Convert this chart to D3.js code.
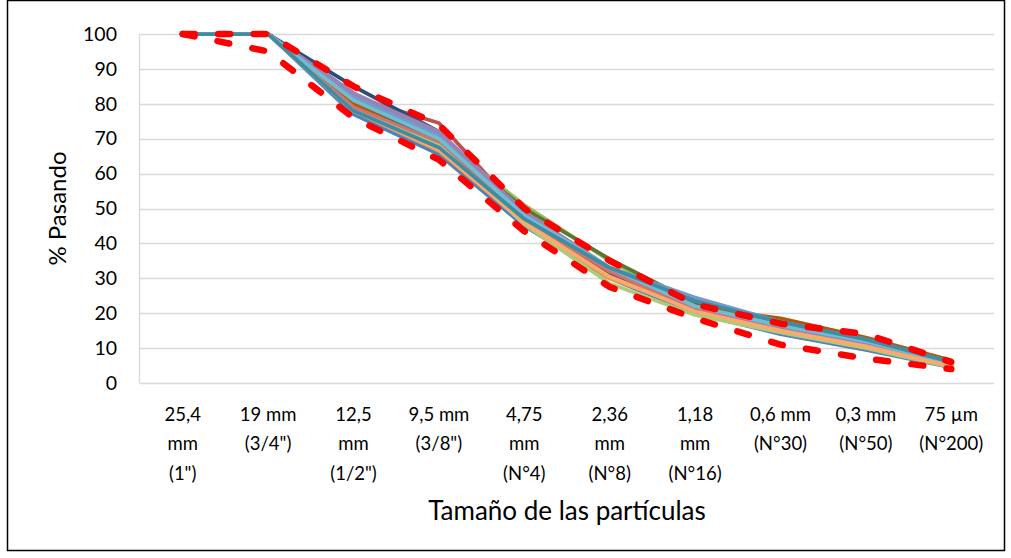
<!DOCTYPE html>
<html>
  <head>
    <meta charset="utf-8"/>
    <style>
    body {
      margin: 0;
      background: #fff;
      font-family: Lato, "Open Sans", sans-serif;
    }
    </style>
  </head>
  <body>
    <script src="https://d3js.org/d3.v7.min.js"></script>
    <script>
    var width = 1011, height = 558;

    // sieve sizes (x categories), each label split in its wrapped lines
    var sieves = ["25.4", "19", "12.5", "9.5", "4.75", "2.36", "1.18", "0.6", "0.3", "0.075"];
    var sieveLabels = [
      ["25,4", "mm", "(1\")"],
      ["19 mm", "(3/4\")"],
      ["12,5", "mm", "(1/2\")"],
      ["9,5 mm", "(3/8\")"],
      ["4,75", "mm", "(N°4)"],
      ["2,36", "mm", "(N°8)"],
      ["1,18", "mm", "(N°16)"],
      ["0,6 mm", "(N°30)"],
      ["0,3 mm", "(N°50)"],
      ["75 µm", "(N°200)"]
    ];
    var yTicks = [0, 10, 20, 30, 40, 50, 60, 70, 80, 90, 100];

    // gradation curves (% passing)
    var curves = [
      [100, 100, 77, 65.5, 45, 30, 20, 14, 9.5, 4.5],
      [100, 100, 82, 74.5, 48, 33, 22, 16, 11.5, 5.5],
      [100, 100, 80, 70, 51, 35, 22, 16.5, 12, 5.5],
      [100, 100, 81, 71, 47, 31, 21, 15, 11, 5],
      [100, 100, 80, 70, 46, 32, 23, 17, 12.5, 6],
      [100, 100, 78, 66.5, 46, 30, 21, 15, 10.5, 5],
      [100, 100, 85, 72, 47, 31, 20.5, 15, 10, 5],
      [100, 100, 82, 71, 48, 32, 21, 16, 11, 5],
      [100, 100, 80, 70, 50, 35.5, 23, 17, 12, 6],
      [100, 100, 83, 70, 47, 31, 21, 15.5, 11, 5],
      [100, 100, 81, 69, 48, 33, 24, 17.5, 12.5, 6],
      [100, 100, 80, 68, 47, 32, 22, 18.5, 13, 6.5],
      [100, 100, 82, 71, 49, 33, 24.5, 17.5, 12.5, 6],
      [100, 100, 79, 69, 47, 32, 21, 16, 11.5, 5.5],
      [100, 100, 78, 68, 45.5, 28.5, 19.5, 14.5, 10, 4.5],
      [100, 100, 83, 72, 49, 33, 22, 16, 11, 5.5],
      [100, 100, 81, 70, 48, 33, 22, 16.5, 12, 5.5],
      [100, 100, 78, 67, 46, 30.5, 20.5, 15, 10.5, 4.8],
      [100, 100, 78, 67.5, 47, 33, 23.5, 17.5, 12.5, 6]
    ];
    var curveColors = ["#4F81BD", "#C0504D", "#9BBB59", "#8064A2", "#4BACC6", "#F79646",
      "#2C4D75", "#772C2A", "#5F7530", "#4D3B62", "#276A7C", "#B65708",
      "#729ACA", "#CD7371", "#AFC97A", "#9983B5", "#6FBDD1", "#F9AB6B", "#3C8DA5"];

    // specification limits
    var upperLimit = [100, 100, 85, 74, 50, 35, 22.5, 17, 14, 6];
    var lowerLimit = [100, 95, 76, 64, 43.5, 27.5, 18.5, 11, 7, 4];

    var svg = d3.select("body").append("svg")
        .attr("width", width)
        .attr("height", height);

    svg.append("rect")
        .attr("x", 7.5).attr("y", 0.5)
        .attr("width", 997).attr("height", 550)
        .attr("fill", "#fff")
        .attr("stroke", "#000")
        .attr("stroke-width", 1.5);

    var plotLeft = 140, plotRight = 994, plotTop = 34, plotBottom = 383;

    var x = d3.scalePoint()
        .domain(sieves)
        .range([plotLeft, plotRight])
        .padding(0.5);

    var y = d3.scaleLinear()
        .domain([0, 100])
        .range([plotBottom, plotTop]);

    // gridlines
    svg.append("g")
      .selectAll("line")
      .data(yTicks)
      .enter().append("line")
        .attr("x1", plotLeft).attr("x2", plotRight)
        .attr("y1", function(d){ return Math.round(y(d)) + 0.5; })
        .attr("y2", function(d){ return Math.round(y(d)) + 0.5; })
        .attr("stroke", "#d9d9d9")
        .attr("stroke-width", 1.3);

    svg.append("line")
        .attr("x1", plotLeft - 0.5).attr("x2", plotLeft - 0.5)
        .attr("y1", plotTop).attr("y2", plotBottom + 0.5)
        .attr("stroke", "#d9d9d9")
        .attr("stroke-width", 1.3);

    // y axis labels
    var yAxis = d3.axisLeft(y).tickValues(yTicks).tickSize(0).tickPadding(0);
    var gy = svg.append("g")
        .attr("transform", "translate(117,0)")
        .call(yAxis);
    gy.select(".domain").remove();
    gy.selectAll("text")
        .attr("font-family", "Lato, sans-serif")
        .attr("font-size", 19.5)
        .attr("fill", "#000");

    // x axis labels
    var gx = svg.append("g");
    sieves.forEach(function(s, i){
      var t = gx.append("text")
          .attr("x", x(s))
          .attr("y", 421)
          .attr("text-anchor", "middle")
          .attr("font-size", 18.5)
          .attr("fill", "#000");
      sieveLabels[i].forEach(function(line, j){
        t.append("tspan")
            .attr("x", x(s))
            .attr("dy", j === 0 ? 0 : 29.3)
            .text(line);
      });
    });

    // axis titles
    svg.append("text")
        .attr("x", (plotLeft + plotRight) / 2)
        .attr("y", 520)
        .attr("text-anchor", "middle")
        .attr("font-size", 26)
        .text("Tamaño de las partículas");

    svg.append("text")
        .attr("transform", "translate(66," + ((plotTop + plotBottom) / 2) + ") rotate(-90)")
        .attr("text-anchor", "middle")
        .attr("font-size", 24)
        .text("% Pasando");

    var line = d3.line()
        .x(function(d, i){ return x(sieves[i]); })
        .y(function(d){ return y(d); });

    svg.append("g")
      .selectAll("path")
      .data(curves)
      .enter().append("path")
        .attr("d", line)
        .attr("fill", "none")
        .attr("stroke", function(d, i){ return curveColors[i]; })
        .attr("stroke-width", 3.75)
        .attr("stroke-linejoin", "round")
        .attr("stroke-linecap", "round");

    svg.append("g")
      .selectAll("path")
      .data([upperLimit, lowerLimit])
      .enter().append("path")
        .attr("d", line)
        .attr("fill", "none")
        .attr("stroke", "#ff0000")
        .attr("stroke-width", 6.5)
        .attr("stroke-dasharray", "12 23.5")
        .attr("stroke-linejoin", "round")
        .attr("stroke-linecap", "round");

    </script>
  </body>
</html>
